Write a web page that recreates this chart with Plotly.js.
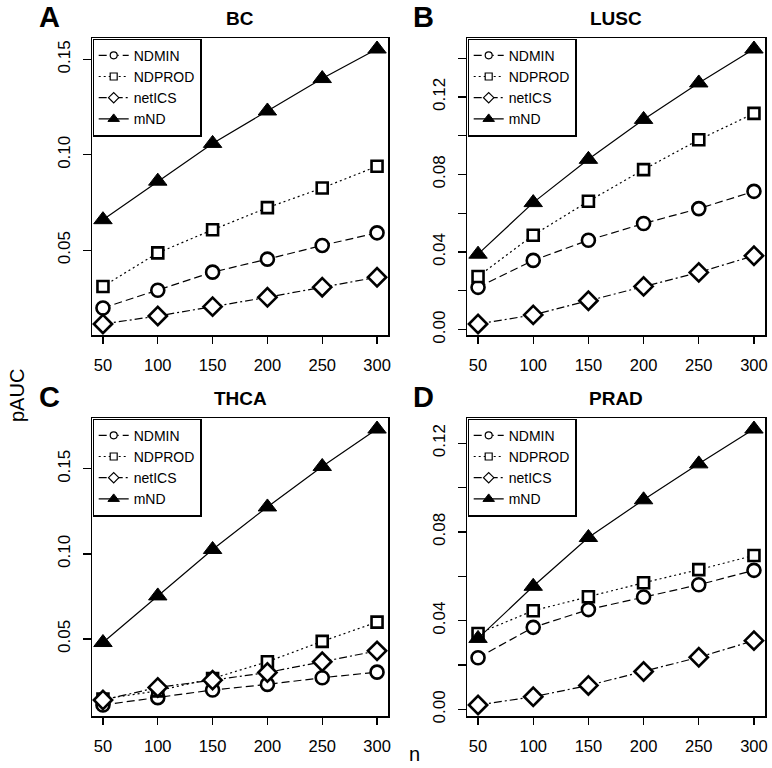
<!DOCTYPE html>
<html>
<head>
<meta charset="utf-8">
<script src="https://cdn.plot.ly/plotly-3.0.1.min.js"></script>
<style>html,body{margin:0;padding:0;background:#fff;}#chart{width:772px;height:768px;}</style>
</head>
<body>
<div id="chart"></div>
<script>
// ---- data ----
const nValues = [50, 100, 150, 200, 250, 300];
const methodNames = ["NDMIN", "NDPROD", "netICS", "mND"];
const panelTitles = ["BC", "LUSC", "THCA", "PRAD"];
const panelLetters = ["A", "B", "C", "D"];

const BC_NDMIN   = [0.0197, 0.0290, 0.0385, 0.0453, 0.0525, 0.0591];
const BC_NDPROD  = [0.0310, 0.0486, 0.0607, 0.0723, 0.0826, 0.0940];
const BC_netICS  = [0.0113, 0.0155, 0.0204, 0.0253, 0.0306, 0.0358];
const BC_mND     = [0.0660, 0.0862, 0.1060, 0.1230, 0.1400, 0.1555];

const LUSC_NDMIN  = [0.0218, 0.0357, 0.0461, 0.0547, 0.0624, 0.0713];
const LUSC_NDPROD = [0.0274, 0.0487, 0.0662, 0.0825, 0.0979, 0.1115];
const LUSC_netICS = [0.0029, 0.0076, 0.0149, 0.0223, 0.0295, 0.0381];
const LUSC_mND    = [0.0389, 0.0655, 0.0878, 0.1084, 0.1272, 0.1447];

const THCA_NDMIN  = [0.0112, 0.0155, 0.0200, 0.0233, 0.0272, 0.0305];
const THCA_NDPROD = [0.0147, 0.0195, 0.0268, 0.0366, 0.0486, 0.0599];
const THCA_netICS = [0.0141, 0.0215, 0.0258, 0.0303, 0.0366, 0.0430];
const THCA_mND    = [0.0479, 0.0753, 0.1026, 0.1276, 0.1514, 0.1734];

const PRAD_NDMIN  = [0.0233, 0.0370, 0.0450, 0.0507, 0.0562, 0.0627];
const PRAD_NDPROD = [0.0342, 0.0445, 0.0508, 0.0571, 0.0630, 0.0694];
const PRAD_netICS = [0.0020, 0.0057, 0.0108, 0.0171, 0.0235, 0.0310];
const PRAD_mND    = [0.0320, 0.0555, 0.0775, 0.0945, 0.1107, 0.1264];

const yTickValsA = [0.05, 0.10, 0.15];
const yTickTextA = ["0.05", "0.10", "0.15"];
const yTickValsB = [0.00, 0.02, 0.04, 0.06, 0.08, 0.10, 0.12, 0.14];
const yTickTextB = ["0.00", "", "0.04", "", "0.08", "", "0.12", ""];
const yTickValsC = [0.05, 0.10, 0.15];
const yTickTextC = ["0.05", "0.10", "0.15"];
const yTickValsD = [0.00, 0.02, 0.04, 0.06, 0.08, 0.10, 0.12];
const yTickTextD = ["0.00", "", "0.04", "", "0.08", "", "0.12"];

// ---- styling ----
const FONT = "Liberation Sans, Arial, Helvetica, sans-serif";
const W = 772, H = 768;
const styles = {
  NDMIN:  {dash: "8px,4px", symbol: "circle", size: 13},
  NDPROD: {dash: "2px,3px", symbol: "square", size: 11},
  netICS: {dash: "8px,3px,2px,3px", symbol: "diamond", size: 14},
  mND:    {dash: "solid", symbol: "triangle-up", size: 16}
};
const legendMarkerSize = {NDMIN: 7, NDPROD: 7, netICS: 8, mND: 10};

const panelSeries = [
  [BC_NDMIN, BC_NDPROD, BC_netICS, BC_mND],
  [LUSC_NDMIN, LUSC_NDPROD, LUSC_netICS, LUSC_mND],
  [THCA_NDMIN, THCA_NDPROD, THCA_netICS, THCA_mND],
  [PRAD_NDMIN, PRAD_NDPROD, PRAD_netICS, PRAD_mND]
];
const panelTicks = [
  [yTickValsA, yTickTextA], [yTickValsB, yTickTextB],
  [yTickValsC, yTickTextC], [yTickValsD, yTickTextD]
];
// pixel boxes [left, right, top, bottom]
const boxes = [[92, 388, 38, 335], [467, 765, 38, 335], [92, 388, 418, 716], [467, 765, 418, 716]];

const traces = [];
const layout = {
  width: W, height: H,
  margin: {l: 0, r: 0, t: 0, b: 0},
  paper_bgcolor: "#fff", plot_bgcolor: "#fff",
  font: {family: FONT, color: "#000", size: 16},
  showlegend: true,
  annotations: []
};

function yRange(arrs) {
  let mn = Infinity, mx = -Infinity;
  arrs.forEach(a => a.forEach(v => { mn = Math.min(mn, v); mx = Math.max(mx, v); }));
  const pad = (mx - mn) * 0.04;
  return [mn - pad, mx + pad];
}

panelSeries.forEach((series, p) => {
  const ax = p === 0 ? "" : String(p + 1);
  const xa = "x" + ax, ya = "y" + ax;
  const leg = p === 0 ? "legend" : "legend" + (p + 1);
  const [l, r, t, b] = boxes[p];
  series.forEach((vals, i) => {
    const name = methodNames[i];
    const st = styles[name];
    const filled = name === "mND";
    traces.push({
      type: "scatter", mode: "lines+markers",
      x: nValues, y: vals, xaxis: xa, yaxis: ya, name: name,
      showlegend: false,
      line: {color: "#000", width: 1.2, dash: st.dash},
      marker: {symbol: st.symbol, size: st.size, color: filled ? "#000" : "#fff",
               line: {color: "#000", width: filled ? 1 : 2.6}},
      cliponaxis: false
    });
  });
  // legend entries
  series.forEach((vals, i) => {
    const name = methodNames[i];
    const st = styles[name];
    const filled = name === "mND";
    traces.push({
      type: "scatter", mode: "lines+markers",
      x: [null], y: [null], xaxis: xa, yaxis: ya, name: name,
      legend: leg, showlegend: true,
      line: {color: "#000", width: 1.2, dash: st.dash},
      marker: {symbol: st.symbol, size: legendMarkerSize[name], color: filled ? "#000" : "#fff",
               line: {color: "#000", width: filled ? 1 : 1.2}}
    });
  });

  const xKey = "xaxis" + ax, yKey = "yaxis" + ax;
  layout[xKey] = {
    domain: [l / W, r / W], anchor: ya,
    range: [nValues[0] - 0.04 * (nValues[5] - nValues[0]), nValues[5] + 0.04 * (nValues[5] - nValues[0])],
    tickmode: "array", tickvals: nValues, ticktext: nValues.map(String),
    ticks: "outside", ticklen: 7, tickwidth: 1.2, tickcolor: "#000",
    showline: true, mirror: true, linecolor: "#000", linewidth: 1.5,
    showgrid: false, zeroline: false,
    tickfont: {size: 16.5, family: FONT, color: "#000"},
    ticklabelstandoff: 8, fixedrange: true
  };
  layout[yKey] = {
    domain: [1 - b / H, 1 - t / H], anchor: xa,
    range: yRange(series),
    tickmode: "array", tickvals: panelTicks[p][0], ticktext: panelTicks[p][1],
    ticks: "outside", ticklen: 8, tickwidth: 1.2, tickcolor: "#000",
    showline: true, mirror: true, linecolor: "#000", linewidth: 1.5,
    showgrid: false, zeroline: false, tickangle: -90,
    tickfont: {size: 17, family: FONT, color: "#000"},
    ticklabelstandoff: 6, fixedrange: true
  };
  layout[leg] = {
    x: (l + 0.5) / W, y: 1 - (t + 0.5) / H, xref: "paper", yref: "paper",
    xanchor: "left", yanchor: "top",
    bgcolor: "#fff", bordercolor: "#000", borderwidth: 1.2,
    font: {size: 14, family: FONT, color: "#000"},
    tracegroupgap: 0, itemwidth: 30
  };
  // panel title
  layout.annotations.push({
    text: "<b>" + panelTitles[p] + "</b>", xref: "paper", yref: "paper",
    x: ((l + r) / 2) / W, y: 1 - (t - 20) / H, xanchor: "center", yanchor: "middle",
    showarrow: false, font: {size: 19, family: FONT, color: "#000"}
  });
  // panel letter
  layout.annotations.push({
    text: "<b>" + panelLetters[p] + "</b>", xref: "paper", yref: "paper",
    x: (l - 43) / W, y: 1 - (t - 21) / H, xanchor: "center", yanchor: "middle",
    showarrow: false, font: {size: 29, family: FONT, color: "#000"}
  });
});

// shared axis labels
layout.annotations.push({
  text: "pAUC", xref: "paper", yref: "paper", x: 17 / W, y: 1 - 396 / H,
  xanchor: "center", yanchor: "middle", textangle: -90, showarrow: false,
  font: {size: 20, family: FONT, color: "#000"}
});
layout.annotations.push({
  text: "n", xref: "paper", yref: "paper", x: 414 / W, y: 1 - 754 / H,
  xanchor: "center", yanchor: "middle", showarrow: false,
  font: {size: 20, family: FONT, color: "#000"}
});

Plotly.newPlot("chart", traces, layout, {displayModeBar: false, staticPlot: true});
</script>
</body>
</html>
